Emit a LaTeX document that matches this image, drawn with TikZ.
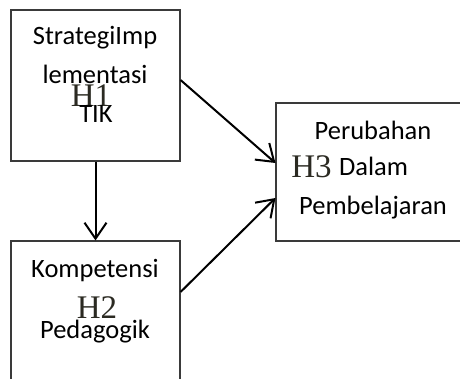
\documentclass[tikz,border=0pt]{standalone}
\usepackage{fontspec}
\setmainfont{Carlito}
\newfontfamily\hfont{Liberation Serif}
\usetikzlibrary{arrows.meta,calc}
\definecolor{boxline}{HTML}{3A3A3A}
\definecolor{hcol}{HTML}{2B2A22}
\tikzset{
  box/.style={draw=boxline, line width=1.1pt, minimum width=#1, inner sep=0pt},
  lbl/.style={anchor=base, inner sep=0pt, font=\fontsize{26.5}{30}\selectfont, text=black},
  hlbl/.style={anchor=base, inner sep=0pt, font=\hfont\fontsize{33}{36}\selectfont, text=hcol},
  arr/.style={line width=2pt, -{Straight Barb[length=16pt,width=22pt,line width=2pt]}}
}
\begin{document}
\begin{tikzpicture}[x=1pt,y=-1pt]
\useasboundingbox (0,0) rectangle (460,378);
\clip (0,0) rectangle (460,378);
\node[box=169pt, minimum height=151pt] (b1) at (95.5,85.5) {};
\node[box=169pt, minimum height=159pt] (b2) at (95.5,320.5) {};
\node[box=204pt, minimum height=138pt] (b3) at (378,172) {};
% box 1 texts
\node[lbl] (t1a) at (95,44) {StrategiImp};
\node[lbl] (t1b) at (95,83) {lementasi};
\node[hlbl] (h1) at (91,106) {H1};
\node[lbl] (t1c) at (96,122) {TIK};
% box 2 texts
\node[lbl] (t2a) at (95,277) {Kompetensi};
\node[hlbl] (h2) at (97,318) {H2};
\node[lbl] (t2b) at (95,338) {Pedagogik};
% box 3 texts
\node[lbl] (t3a) at (373,139) {Perubahan};
\node[hlbl] (h3) at (311.5,177) {H3};
\node[lbl] (t3b) at (373.5,175) {Dalam};
\node[lbl] (t3c) at (373,214) {Pembelajaran};
% arrows
\draw[arr] (b1.south) -- (b2.north);
\draw[arr] ([yshift=5.5pt]b1.east) -- ([yshift=9pt]b3.west);
\draw[arr] ([yshift=28.5pt]b2.east) -- ([yshift=-26pt]b3.west);
\end{tikzpicture}
\end{document}
